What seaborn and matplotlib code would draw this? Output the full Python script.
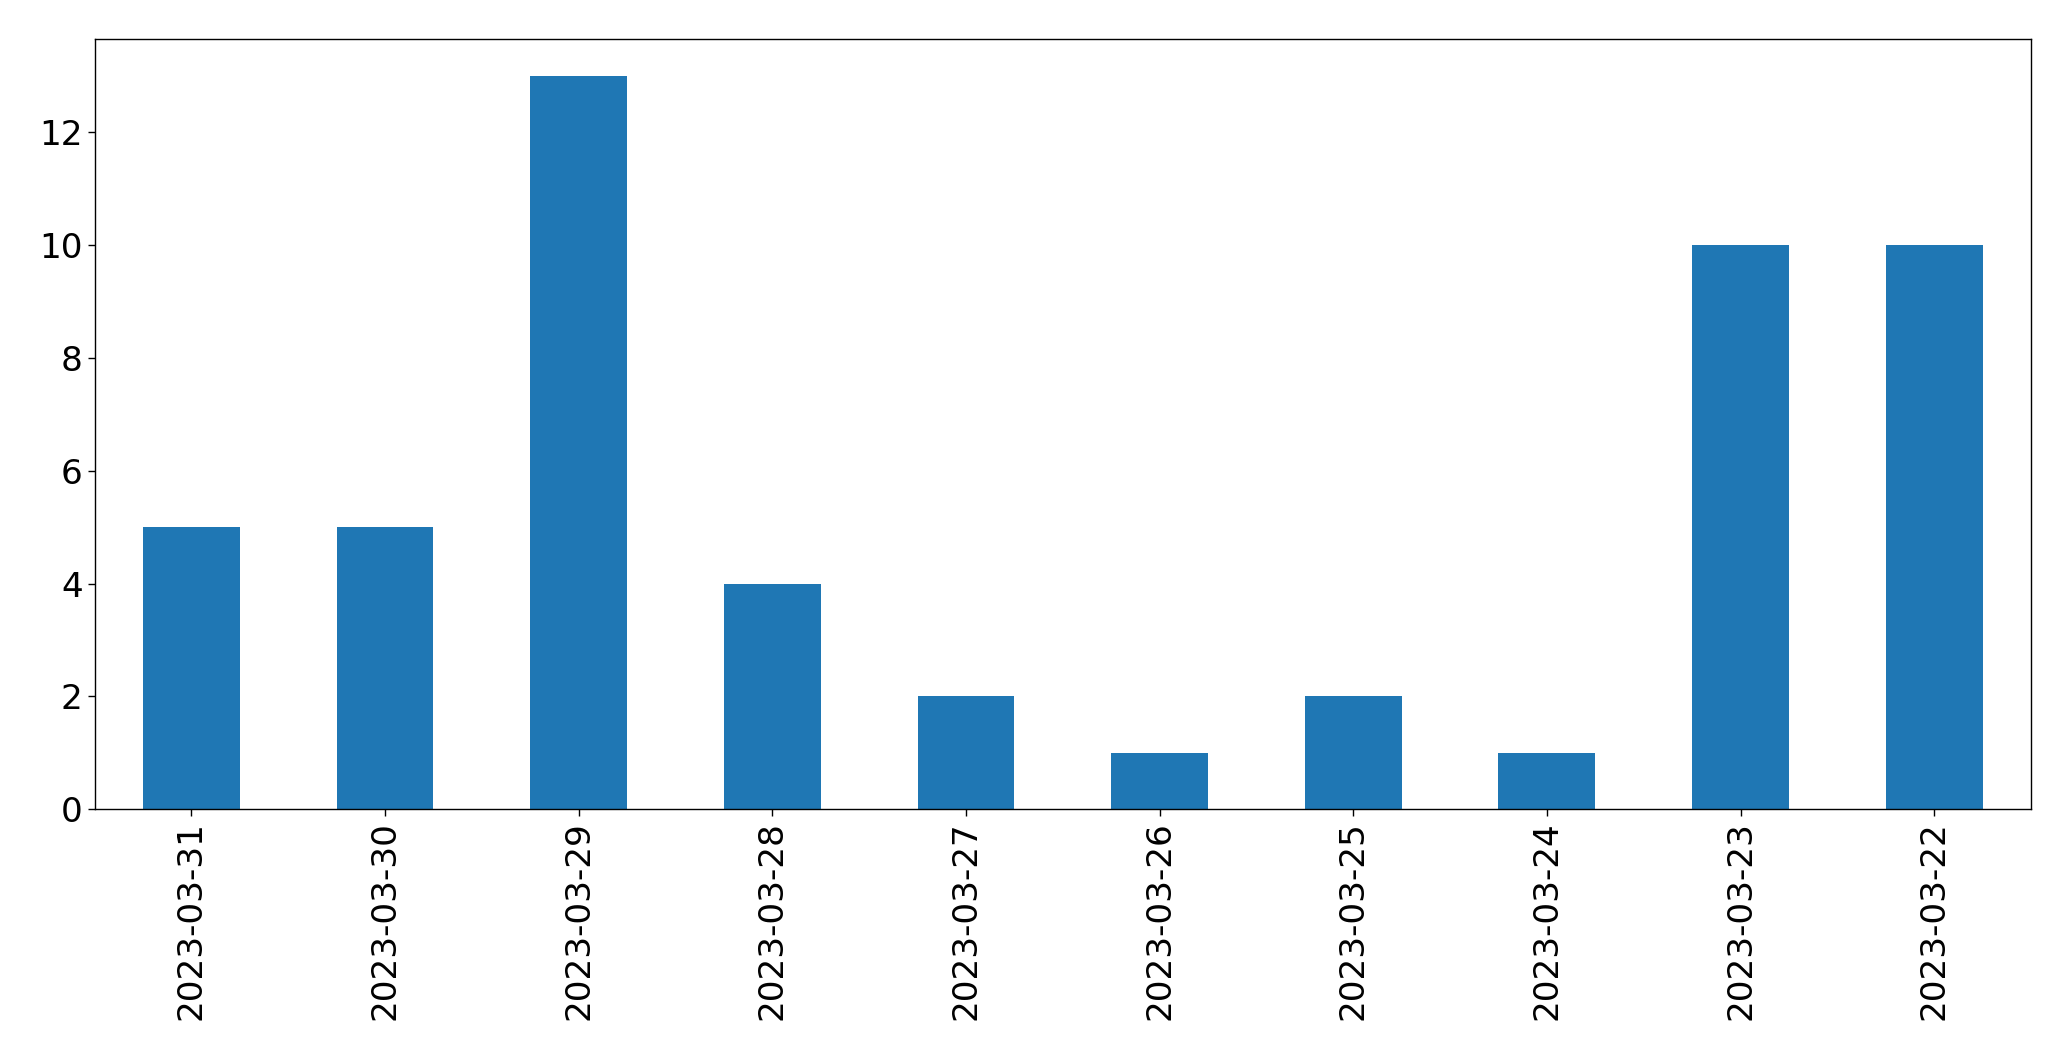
import seaborn as sns
import pandas as pd
import matplotlib.pyplot as plt

dates = ['2023-03-31', '2023-03-30', '2023-03-29', '2023-03-28', '2023-03-27',
         '2023-03-26', '2023-03-25', '2023-03-24', '2023-03-23', '2023-03-22']
counts = [5, 5, 13, 4, 2, 1, 2, 1, 10, 10]

sns.set_style("ticks")
plt.rcParams['font.family'] = ['DejaVu Sans']
plt.rcParams['text.color'] = 'black'
plt.rcParams['xtick.color'] = 'black'
plt.rcParams['ytick.color'] = 'black'

df = pd.DataFrame({'date': dates, 'count': counts})

fig = plt.figure(figsize=(20.71, 10.61), dpi=100)
ax = fig.add_axes([94.5 / 2071, 1 - 809.3 / 1061, (2031 - 94.5) / 2071, (809.3 - 39.3) / 1061])
sns.barplot(data=df, x='date', y='count', color='#1f77b4', saturation=1, width=0.5,
            linewidth=0, ax=ax)

ax.set_xlim(-0.5, len(dates) - 0.5)
ax.set_ylim(0, max(counts) * 1.05)
ax.set_yticks(range(0, 14, 2))
ax.set_xlabel('')
ax.set_ylabel('')
ax.tick_params(axis='x', labelrotation=90, labelsize=24.7, length=5, width=1,
               color='black', labelcolor='black')
ax.tick_params(axis='y', labelsize=24.7, length=5, width=1,
               color='black', labelcolor='black')
for s in ax.spines.values():
    s.set_visible(True)
    s.set_color('black')
    s.set_linewidth(1)

fig.savefig('out.png', dpi=100)
